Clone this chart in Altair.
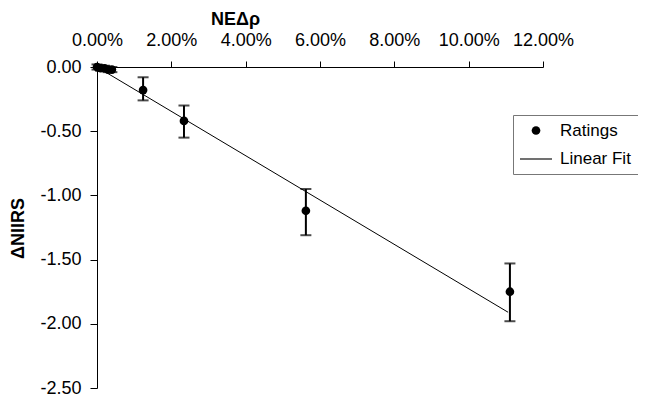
import altair as alt
import pandas as pd

# Ratings (NEΔρ as fraction, ΔNIIRS) with error-bar limits
rating_x = [0.0, 0.001, 0.002, 0.003, 0.004, 0.0124, 0.0234, 0.0562, 0.1111]
rating_y = [0.0, -0.01, -0.01, -0.02, -0.02, -0.18, -0.42, -1.12, -1.75]
err_lo = [-0.02, -0.03, -0.03, -0.04, -0.04, -0.26, -0.55, -1.31, -1.98]
err_hi = [0.02, 0.01, 0.01, 0.00, 0.00, -0.08, -0.30, -0.95, -1.53]

# Linear fit endpoints
fit_x = [0.0, 0.1106]
fit_y = [0.0, -1.91]

series_names = ["Ratings", "Linear Fit"]

ratings = pd.DataFrame({"x": rating_x, "y": rating_y, "lo": err_lo, "hi": err_hi,
                        "series": ["Ratings"] * len(rating_x)})
fit = pd.DataFrame({"x": fit_x, "y": fit_y})

FONT = "Liberation Sans"

xscale = alt.Scale(domain=[0, 0.12], nice=False, zero=True)
yscale = alt.Scale(domain=[-2.5, 0], nice=False)

x_axis = alt.Axis(orient="top", values=[0, 0.02, 0.04, 0.06, 0.08, 0.10, 0.12],
                  format=".2%", title="NEΔρ", grid=False,
                  labelOverlap=False, labelFlush=False, labelBound=False,
                  tickSize=6, labelPadding=12, labelFontSize=18, labelFont=FONT,
                  titleFont=FONT, titleFontSize=18, titleFontWeight="bold",
                  titleX=138, titleY=-48, titleBaseline="middle", titleAlign="center",
                  domainColor="black", tickColor="black", labelColor="black", titleColor="black")

y_axis = alt.Axis(values=[0, -0.5, -1.0, -1.5, -2.0, -2.5],
                  labelExpr="replace(format(datum.value, '.2f'), '\u2212', '-')",
                  title="ΔNIIRS", grid=False, labelOverlap=False,
                  tickSize=7, labelPadding=9, labelFontSize=18, labelFont=FONT,
                  titleFont=FONT, titleFontSize=18, titleFontWeight="bold",
                  titleAngle=270, titleX=-79, titleY=161, titleBaseline="middle", titleAlign="center",
                  domainColor="black", tickColor="black", labelColor="black", titleColor="black")

base_x = alt.X("x:Q", scale=xscale, axis=x_axis)

fit_line = alt.Chart(fit).mark_line(color="black", strokeWidth=1).encode(
    x=base_x, y=alt.Y("y:Q", scale=yscale, axis=y_axis))

bars = alt.Chart(ratings).mark_rule(color="black", strokeWidth=2).encode(
    x="x:Q", y="lo:Q", y2="hi:Q")

cap_lo = alt.Chart(ratings).mark_tick(color="black", thickness=2, size=11, orient="horizontal").encode(
    x="x:Q", y="lo:Q")
cap_hi = alt.Chart(ratings).mark_tick(color="black", thickness=2, size=11, orient="horizontal").encode(
    x="x:Q", y="hi:Q")

legend = alt.Legend(title=None, orient="none", legendX=416, legendY=48,
                    labelFont=FONT, labelFontSize=17, labelColor="black",
                    symbolFillColor="black", symbolStrokeWidth=0,
                    strokeColor="#777", fillColor="white",
                    padding=7, rowPadding=4, labelOffset=8)

line_symbol = "M-1,-0.035H1V0.035H-1Z"

points = alt.Chart(ratings).mark_point(filled=True, color="black", opacity=1, strokeWidth=0).encode(
    x="x:Q", y="y:Q",
    shape=alt.Shape("series:N", scale=alt.Scale(domain=series_names, range=["circle", line_symbol]),
                    legend=legend),
    size=alt.Size("series:N", scale=alt.Scale(domain=series_names, range=[75, 1024]),
                  legend=legend))

chart = alt.layer(fit_line, bars, cap_lo, cap_hi, points).properties(
    width=446, height=321,
    autosize=alt.AutoSizeParams(type="none"),
    padding={"left": 89, "top": 59, "right": 95, "bottom": 20},
    background="white",
).configure_view(stroke=None)

chart.save("out.html", embed_options={"renderer": "svg", "actions": False})
